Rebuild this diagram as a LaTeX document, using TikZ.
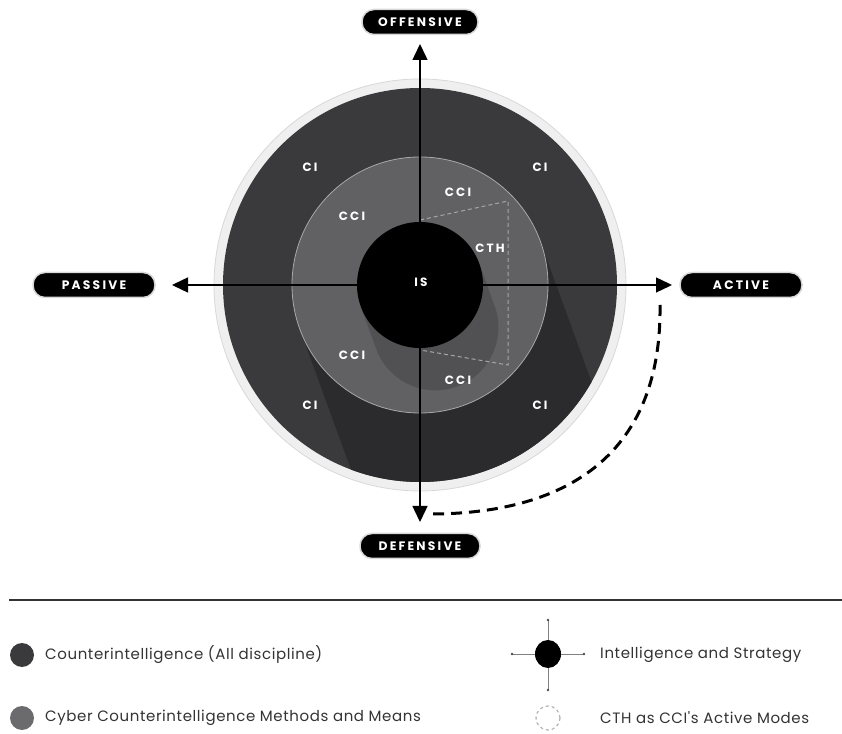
\documentclass[tikz,border=0pt]{standalone}
\usepackage{fontspec}
\setmainfont{Poppins}
\newfontfamily\labfont[LetterSpace=18]{Poppins}
\newfontfamily\legfont[LetterSpace=4]{Poppins}
\usetikzlibrary{arrows.meta,shapes.geometric,calc}
\definecolor{cidark}{HTML}{3A3A3C}
\definecolor{ccigray}{HTML}{616163}
\definecolor{cishadow}{HTML}{2B2B2D}
\definecolor{isshadow}{HTML}{515153}
\definecolor{ringcol}{HTML}{EFEFEF}
\definecolor{ringedge}{HTML}{D8D8D8}
\definecolor{legtext}{HTML}{333333}
\definecolor{legcci}{HTML}{6B6B6D}
\tikzset{
  pill/.style={fill=black, draw=ringedge, line width=1.5pt, rounded corners=12pt,
    minimum height=25pt, text=white, font=\labfont\bfseries\fontsize{12.3}{14}\selectfont, inner sep=0pt},
  inlab/.style={text=white, font=\labfont\bfseries\fontsize{12}{14}\selectfont, inner sep=0pt},
  axis/.style={line width=1.4pt, -{Triangle[length=16pt,width=15pt]}},
  cthline/.style={draw=gray!70, line width=1pt, dash pattern=on 4pt off 3pt},
  activearc/.style={line width=3pt, dash pattern=on 11pt off 7pt},
  legtxt/.style={anchor=west, text=legtext, font=\legfont\fontsize{15}{18}\selectfont, inner sep=0pt},
}
\begin{document}
\begin{tikzpicture}[x=1pt,y=1pt]
\useasboundingbox (0,0) rectangle (842,733);
\coordinate (C) at (420,448);
% outer ring and CI disc
\fill[ringcol, draw=ringedge, line width=0.8pt] (C) circle[radius=206];
\fill[cidark] (C) circle[radius=197];
% long shadow of CCI disc inside CI disc
\begin{scope}
  \clip (C) circle[radius=197];
  \fill[cishadow] (C) ++(20:128) -- ++(-70:220) arc[start angle=20, end angle=-160, radius=128]
     -- ($(C)+(-160:128)$) -- cycle;
\end{scope}
% CCI disc
\fill[ccigray] (C) circle[radius=128];
\draw[white!45!ccigray, line width=0.8pt] (C) circle[radius=128];
% long shadow of IS disc inside CCI disc
\begin{scope}
  \clip (C) circle[radius=128];
  \fill[isshadow] (C) ++(20:63) -- ++(-70:45) arc[start angle=20, end angle=-160, radius=63]
     -- ($(C)+(-160:63)$) -- cycle;
\end{scope}
% CTH dashed area
\coordinate (h1) at (420,513);
\coordinate (h2) at (508,532);
\coordinate (h3) at (508,368);
\coordinate (h4) at (420,383);
\draw[cthline] (h1) -- (h2) -- (h3) -- (h4);
% IS disc
\node[circle, fill=black, minimum size=126pt, inner sep=0pt] (IS) at (C) {};
% labels
\node[inlab] (ci1) at (310,566) {CI};
\node[inlab] (ci2) at (540,566) {CI};
\node[inlab] (ci3) at (310,328) {CI};
\node[inlab] (ci4) at (540,328) {CI};
\node[inlab] (cci1) at (352,517) {CCI};
\node[inlab] (cci2) at (458,541) {CCI};
\node[inlab] (cci3) at (352,378) {CCI};
\node[inlab] (cci4) at (458,353) {CCI};
\node[inlab] (cth) at (490,485) {CTH};
% axes
\coordinate (tN) at (420,689);
\coordinate (tS) at (420,211);
\coordinate (tW) at (172,448);
\coordinate (tE) at (672,448);
\draw[axis] (C) -- (tN);
\draw[axis] (C) -- (tS);
\draw[axis] (C) -- (tW);
\draw[axis] (C) -- (tE);
\node[inlab] (islab) at (421,451) {IS};
% pills
\node[pill, minimum width=116pt] (off) at (420,711) {OFFENSIVE};
\node[pill, minimum width=122pt] (pas) at (94,448) {PASSIVE};
\node[pill, minimum width=122pt] (act) at (741,448) {ACTIVE};
\node[pill, minimum width=120pt] (def) at (420,187) {DEFENSIVE};
% dashed active arc
\coordinate (aS) at (660,428);
\coordinate (aE) at (430,219);
\draw[activearc] (aS) .. controls (662,273) and (560,219) .. (aE);
% legend
\coordinate (l1) at (9,133);
\coordinate (l2) at (842,133);
\draw[legtext, line width=2pt] (l1) -- (l2);
\node[circle, fill=cidark, minimum size=24pt, inner sep=0pt] (k1) at (22,78) {};
\node[legtxt] (t1) at (45,78) {Counterintelligence (All discipline)};
\node[circle, fill=legcci, minimum size=24pt, inner sep=0pt] (k2) at (22,15) {};
\node[legtxt] (t2) at (45,15) {Cyber Counterintelligence Methods and Means};
\coordinate (kw) at (512,79);
\coordinate (ke) at (584,79);
\coordinate (kn) at (548,113);
\coordinate (ks) at (548,43);
\draw[gray, line width=0.8pt] (kw) -- (ke);
\draw[gray, line width=0.8pt] (kn) -- (ks);
\foreach \p in {kw,ke,kn,ks} \fill[black!70] (\p) circle[radius=1.3];
\node[ellipse, fill=black, minimum width=26pt, minimum height=28pt, inner sep=0pt] (k3) at (548,79) {};
\node[legtxt] (t3) at (600,78) {Intelligence and Strategy};
\node[circle, draw=gray!60, dashed, line width=1.2pt, minimum size=24pt, inner sep=0pt] (k4) at (548,15) {};
\node[legtxt] (t4) at (600,15) {CTH as CCI's Active Modes};
\end{tikzpicture}
\end{document}
